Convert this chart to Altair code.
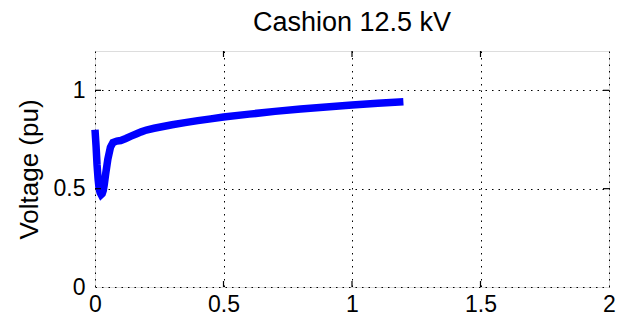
import altair as alt
import pandas as pd

# Sampled voltage trace (time in seconds, voltage in per-unit)
time_s = [0.000, 0.004, 0.008, 0.012, 0.016, 0.020, 0.024, 0.028, 0.032, 0.036,
          0.042, 0.050, 0.060, 0.070, 0.085, 0.100, 0.120, 0.140, 0.160, 0.180,
          0.200, 0.230, 0.260, 0.300, 0.350, 0.400, 0.450, 0.500, 0.600, 0.700,
          0.800, 0.900, 1.000, 1.100, 1.200]
voltage_pu = [0.80, 0.72, 0.62, 0.55, 0.50, 0.48, 0.47, 0.475, 0.49, 0.52,
              0.58, 0.65, 0.71, 0.735, 0.742, 0.745, 0.755, 0.767, 0.778, 0.789,
              0.798, 0.807, 0.815, 0.825, 0.836, 0.846, 0.855, 0.864, 0.879, 0.893,
              0.905, 0.915, 0.925, 0.934, 0.942]

x_ticks = [0, 0.5, 1, 1.5, 2]
y_ticks = [0, 0.5, 1]

df = pd.DataFrame({"t": time_s, "v": voltage_pu})
xt = pd.DataFrame({"t": x_ticks[1:-1]})
yt = pd.DataFrame({"v": y_ticks[1:]})

W, H = 514, 236
FONT = "Liberation Sans"

x_scale = alt.Scale(domain=[0, 2], nice=False)
y_scale = alt.Scale(domain=[0, 1.2], nice=False)

line = alt.Chart(df).mark_line(color="#0000FF", strokeWidth=7.5, strokeJoin="miter").encode(
    x=alt.X("t:Q", scale=x_scale,
            axis=alt.Axis(values=x_ticks, format="~g", title=None, grid=True,
                          gridDash=[1.5, 5], gridColor="black", gridWidth=1,
                          domain=False, ticks=False, labelPadding=6, labelFlush=False,
                          labelFontSize=23, labelFont=FONT, labelColor="black")),
    y=alt.Y("v:Q", scale=y_scale,
            axis=alt.Axis(values=y_ticks, format="~g", title="Voltage (pu)", grid=True,
                          gridDash=[1.5, 5], gridColor="black", gridWidth=1,
                          domain=False, ticks=False, labelPadding=10, labelFlush=False,
                          labelFontSize=23, labelFont=FONT, labelColor="black",
                          titleFontSize=26, titleFont=FONT, titleFontWeight="normal",
                          titleColor="black", titlePadding=11)),
)

# Inward tick marks on all four sides of the frame
tick_style = dict(color="black", strokeWidth=1.2)
bottom_ticks = alt.Chart(xt).mark_rule(**tick_style).encode(
    x=alt.X("t:Q", scale=x_scale), y=alt.value(H), y2=alt.value(H - 6))
top_ticks = alt.Chart(xt).mark_rule(**tick_style).encode(
    x=alt.X("t:Q", scale=x_scale), y=alt.value(0), y2=alt.value(6))
left_ticks = alt.Chart(yt).mark_rule(**tick_style).encode(
    y=alt.Y("v:Q", scale=y_scale), x=alt.value(0), x2=alt.value(6))
right_ticks = alt.Chart(yt).mark_rule(**tick_style).encode(
    y=alt.Y("v:Q", scale=y_scale), x=alt.value(W), x2=alt.value(W - 6))

chart = alt.layer(line, bottom_ticks, top_ticks, left_ticks, right_ticks).properties(
    width=W, height=H,
    title=alt.TitleParams("Cashion 12.5 kV", fontSize=27, font=FONT,
                          fontWeight="normal", color="black", offset=13, anchor="middle"),
    autosize=alt.AutoSizeParams(type="none"),
    padding={"left": 95, "top": 51, "right": 12, "bottom": 41},
).configure_view(stroke="#222222", strokeWidth=2).configure(background="white")

chart.save("out.html", embed_options={"renderer": "svg", "actions": False})
